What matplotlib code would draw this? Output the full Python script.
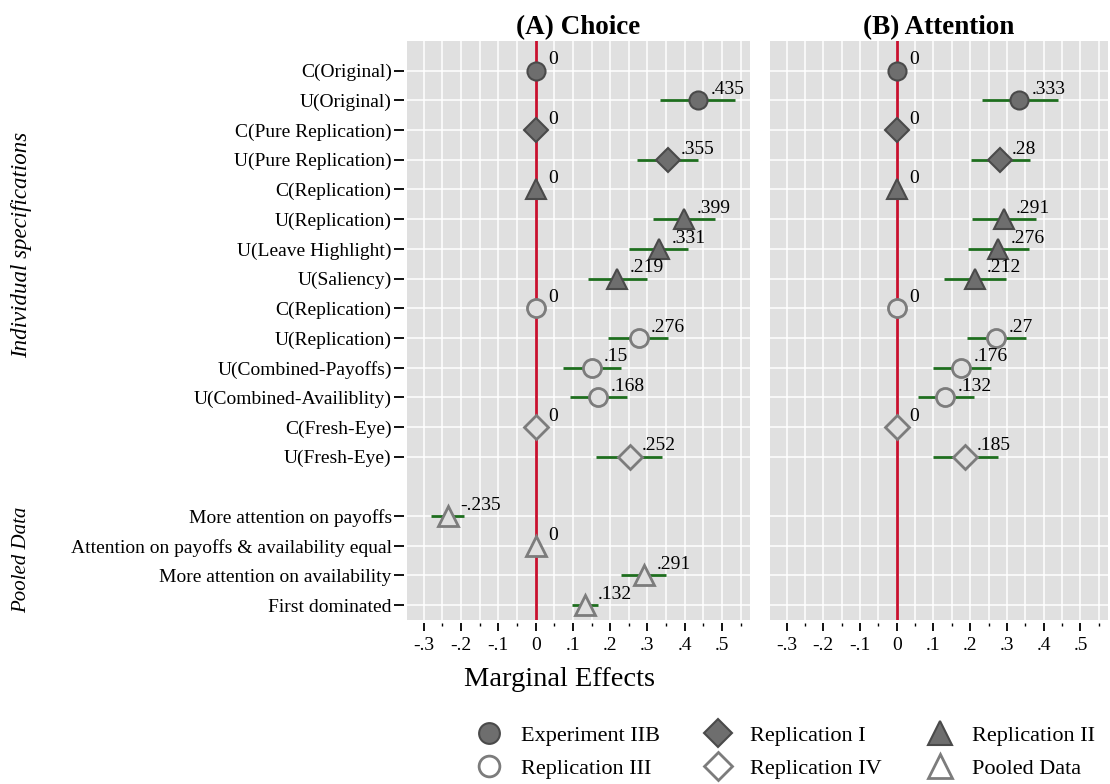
import numpy as np
import matplotlib.pyplot as plt
from matplotlib.lines import Line2D
from matplotlib.ticker import MultipleLocator, FuncFormatter

plt.rcParams['font.family'] = ['Liberation Serif', 'DejaVu Serif']

nan = np.nan

# row labels
spec_labels = ['C(Original)', 'U(Original)', 'C(Pure Replication)', 'U(Pure Replication)',
               'C(Replication)', 'U(Replication)', 'U(Leave Highlight)', 'U(Saliency)',
               'C(Replication)', 'U(Replication)', 'U(Combined-Payoffs)',
               'U(Combined-Availiblity)', 'C(Fresh-Eye)', 'U(Fresh-Eye)']
pooled_labels = ['More attention on payoffs', 'Attention on payoffs & availability equal',
                 'More attention on availability', 'First dominated']

spec_group = (['Experiment IIB'] * 2 + ['Replication I'] * 2 + ['Replication II'] * 4
              + ['Replication III'] * 4 + ['Replication IV'] * 2)

# marginal effects with 95% CI, choice model
choice_est = [0, .435, 0, .355, 0, .399, .331, .219, 0, .276, .15, .168, 0, .252]
choice_lo = [nan, .334, nan, .272, nan, .315, .25, .141, nan, .195, .073, .091, nan, .163]
choice_hi = [nan, .535, nan, .436, nan, .481, .41, .298, nan, .355, .228, .245, nan, .338]

# attention model
attn_est = [0, .333, 0, .28, 0, .291, .276, .212, 0, .27, .176, .132, 0, .185]
attn_lo = [nan, .231, nan, .201, nan, .206, .195, .129, nan, .191, .098, .058, nan, .098]
attn_hi = [nan, .439, nan, .362, nan, .378, .359, .297, nan, .351, .257, .209, nan, .275]

# pooled data (choice only)
pooled_est = [-.235, 0, .291, .132]
pooled_lo = [-.28, nan, .229, .098]
pooled_hi = [-.192, nan, .351, .167]

BG = '#e0e0e0'
FILL = '#6e6e6e'
EDGE_DARK = '#4a4a4a'
EDGE_LIGHT = '#7c7c7c'
GREEN = '#1e6e1e'
RED = '#c8102e'

styles = {
    'Experiment IIB': dict(marker='o', ms=13, mfc=FILL, mec=EDGE_DARK, mew=1.5),
    'Replication I': dict(marker='D', ms=12.5, mfc=FILL, mec=EDGE_DARK, mew=1.5),
    'Replication II': dict(marker='^', ms=15, mfc=FILL, mec=EDGE_DARK, mew=1.5),
    'Replication III': dict(marker='o', ms=13, mfc=BG, mec=EDGE_LIGHT, mew=2),
    'Replication IV': dict(marker='D', ms=12.5, mfc=BG, mec=EDGE_LIGHT, mew=2),
    'Pooled Data': dict(marker='^', ms=15, mfc=BG, mec=EDGE_LIGHT, mew=2),
}
legend_order = ['Experiment IIB', 'Replication III', 'Replication I',
                'Replication IV', 'Replication II', 'Pooled Data']


def lab(v):
    v = round(v, 3)
    if v == 0:
        return '0'
    return f'{v:g}'.replace('0.', '.')


spec_y = np.arange(len(spec_labels))
pooled_y = np.arange(len(pooled_labels)) + len(spec_labels) + 1


def draw_rows(ax, ys, est, lo, hi, groups):
    for y, e, l, h, g in zip(ys, est, lo, hi, groups):
        if not np.isnan(l):
            ax.plot([l, h], [y, y], color=GREEN, lw=2, zorder=3, solid_capstyle='butt')
        ax.plot(e, y, linestyle='none', zorder=4, **styles[g])
        ax.annotate(lab(e), (e, y), xytext=(9, 4.5), textcoords='offset points',
                    ha='left', va='baseline', fontsize=14, zorder=5)


fig = plt.figure(figsize=(11.1, 7.84), dpi=100)
axA = fig.add_axes([407 / 1110, 1 - 620 / 784, 343 / 1110, 579 / 784])
axB = fig.add_axes([770 / 1110, 1 - 620 / 784, 338 / 1110, 579 / 784])

draw_rows(axA, spec_y, choice_est, choice_lo, choice_hi, spec_group)
draw_rows(axA, pooled_y, pooled_est, pooled_lo, pooled_hi, ['Pooled Data'] * 4)
draw_rows(axB, spec_y, attn_est, attn_lo, attn_hi, spec_group)

all_y = np.concatenate([spec_y, pooled_y])
for ax, title in [(axA, '(A) Choice'), (axB, '(B) Attention')]:
    ax.set_facecolor(BG)
    ax.set_axisbelow(True)
    ax.axvline(0, color=RED, lw=2, zorder=2)
    ax.set_xlim(-0.345, 0.575)
    ax.set_ylim(pooled_y[-1] + 0.5, -1)
    ax.xaxis.set_major_locator(MultipleLocator(0.1))
    ax.xaxis.set_minor_locator(MultipleLocator(0.05))
    ax.xaxis.set_major_formatter(FuncFormatter(lambda v, p: lab(v)))
    ax.set_yticks(all_y)
    ax.grid(which='both', axis='x', color='white', lw=1.1)
    ax.grid(which='major', axis='y', color='white', lw=1.1)
    for s in ax.spines.values():
        s.set_visible(False)
    ax.spines['left'].set_position(('outward', 2))
    ax.spines['bottom'].set_position(('outward', 2))
    ax.tick_params(axis='x', which='major', length=6, width=1.3, pad=4, labelsize=14)
    ax.tick_params(axis='x', which='minor', length=2, width=1)
    ax.set_title(title, fontsize=19.5, fontweight='bold', pad=5)

axA.set_yticklabels(spec_labels + pooled_labels)
axA.tick_params(axis='y', length=7, width=1.3, pad=2, labelsize=14)
axB.tick_params(axis='y', left=False, labelleft=False)

fig.text(560 / 1110, 1 - 680 / 784, 'Marginal Effects', fontsize=20.5, ha='center', va='center')
fig.text(22 / 1110, 1 - 245 / 784, 'Individual specifications', rotation=90,
         style='italic', fontsize=16.5, ha='center', va='center')
fig.text(22 / 1110, 1 - 560 / 784, 'Pooled Data', rotation=90,
         style='italic', fontsize=15, ha='center', va='center')

# legend keys: hollow shapes stay see-through on the white figure
handles = []
for g in legend_order:
    st = dict(styles[g])
    if st['mfc'] == BG:
        st['mfc'] = 'none'
    handles.append(Line2D([], [], linestyle='none', **st))
fig.legend(handles, legend_order, ncol=3, loc='center', bbox_to_anchor=(781 / 1110, 1 - 752 / 784),
           frameon=False, fontsize=16, handletextpad=0.45, columnspacing=1.6,
           labelspacing=0.55, borderpad=0, markerscale=1.15)

fig.savefig('out.png', dpi=100)
